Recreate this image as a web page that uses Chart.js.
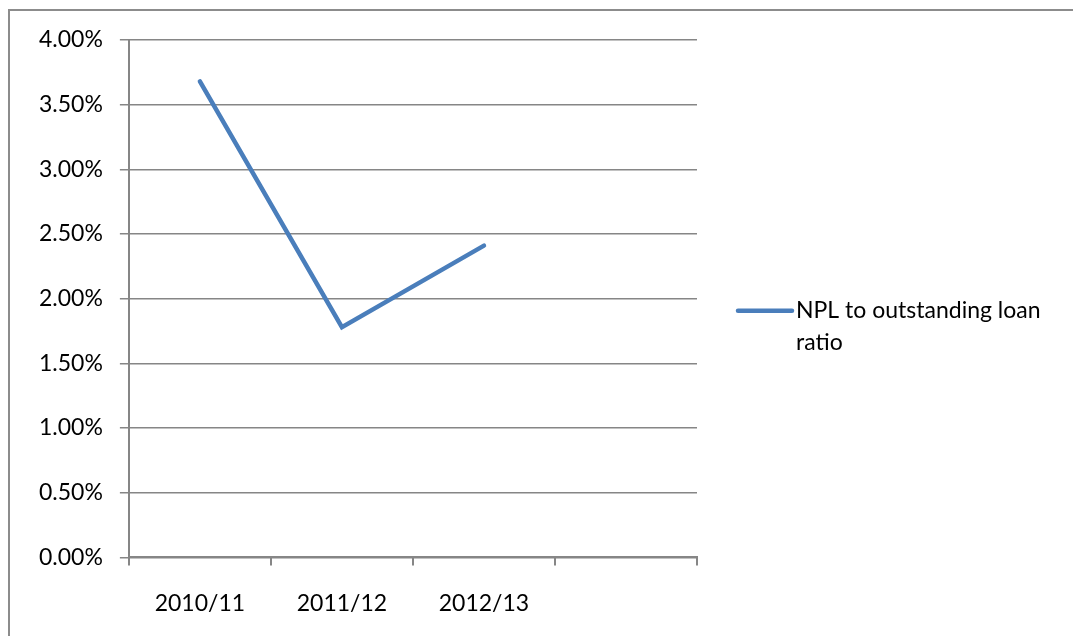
<!DOCTYPE html>
<html>
<head>
<meta charset="utf-8">
<script src="https://cdn.jsdelivr.net/npm/chart.js@4"></script>
<style>
  html, body { margin: 0; padding: 0; background: #fff; }
  #wrap { width: 1073px; height: 636px; }
</style>
</head>
<body>
<div id="wrap"><canvas id="nplChart" width="1073" height="636"></canvas></div>
<script>
const categories = ['2010/11', '2011/12', '2012/13', ''];
const nplRatio = [3.68, 1.78, 2.41, null];
const seriesLabel = ['NPL to outstanding loan', 'ratio'];
const yMin = 0, yMax = 4, yStep = 0.5;

const FONT = 'Lato, "Liberation Sans", sans-serif';
const GRID = '#868686';
const BLUE = '#4a7ebb';

// frame + wrapped legend, Excel style
const excelBits = {
    id: 'excelBits',
    beforeDraw(chart) {
        const c = chart.ctx;
        c.save();
        c.strokeStyle = '#8c8c8c';
        c.lineWidth = 2;
        c.strokeRect(9, 10, 1200, 800);
        c.restore();
    },
    afterDraw(chart) {
        const c = chart.ctx;
        const a = chart.chartArea;
        const x0 = a.right + 41;
        const y0 = (a.top + a.bottom) / 2 + 12;
        c.save();
        c.strokeStyle = BLUE;
        c.lineWidth = 4.5;
        c.lineCap = 'round';
        c.beginPath();
        c.moveTo(x0, y0);
        c.lineTo(x0 + 54, y0);
        c.stroke();
        c.fillStyle = '#000';
        c.font = '23px ' + FONT;
        c.textBaseline = 'middle';
        seriesLabel.forEach(function (t, i) {
            c.fillText(t, x0 + 58, y0 + i * 32);
        });
        c.restore();
    }
};

new Chart(document.getElementById('nplChart').getContext('2d'), {
    type: 'line',
    data: {
        labels: categories,
        datasets: [{
            label: seriesLabel.join(' '),
            data: nplRatio,
            borderColor: BLUE,
            borderWidth: 4.5,
            borderCapStyle: 'round',
            borderJoinStyle: 'miter',
            pointRadius: 0,
            tension: 0,
            fill: false
        }]
    },
    options: {
        responsive: false,
        animation: false,
        layout: { padding: { left: 22, top: 40, right: 376, bottom: -5 } },
        plugins: {
            legend: { display: false },
            tooltip: { enabled: false }
        },
        scales: {
            x: {
                offset: true,
                grid: { offset: true, drawOnChartArea: false, color: GRID, tickLength: 8, lineWidth: 2 },
                border: { color: GRID, width: 2 },
                ticks: { color: '#000', font: { family: FONT, size: 23 }, padding: 24, maxRotation: 0, autoSkip: false }
            },
            y: {
                min: yMin,
                max: yMax,
                grid: { color: GRID, lineWidth: 1.5, tickLength: 9 },
                border: { color: GRID, width: 2 },
                ticks: {
                    stepSize: yStep,
                    color: '#000',
                    font: { family: FONT, size: 23 },
                    padding: 17,
                    callback: function (v) { return v.toFixed(2) + '%'; }
                }
            }
        }
    },
    plugins: [excelBits]
});
</script>
</body>
</html>
